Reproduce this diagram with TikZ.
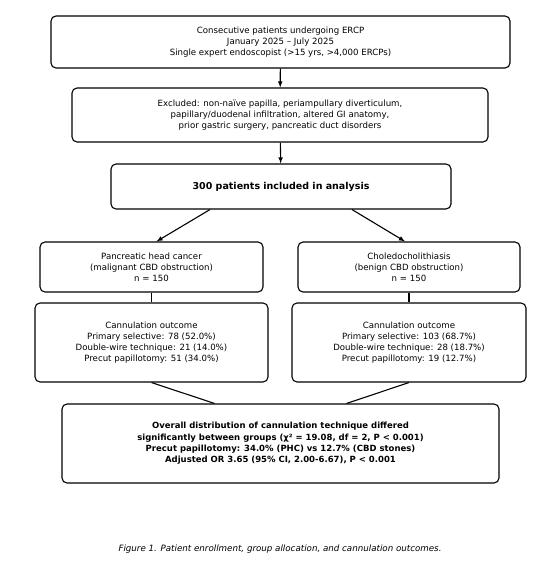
\documentclass[tikz,border=0pt]{standalone}
\usepackage{fontspec}
\setmainfont{DejaVu Sans}
\usepackage{tikz}
\usetikzlibrary{calc}

\begin{document}
\begin{tikzpicture}[x=1pt,y=-1pt,
	box/.style={draw,line width=1.1pt,rounded corners=5pt,fill=white,align=center,inner sep=0pt,font=\fontsize{8.6}{11}\selectfont},
	link/.style={line width=1.1pt},
	arr/.style={link,-latex}]
	\fill[white] (0,0) rectangle (554,588);
	\useasboundingbox (0,0) rectangle (554,588);
	\def\offa{71};
	\def\offb{66};
	% enrollment
	\node[box,minimum width=459pt,minimum height=52pt] (src) at (280.5,42)
		{Consecutive patients undergoing ERCP\\January 2025 -- July 2025\\Single expert endoscopist (>15 yrs, >4,000 ERCPs)};
	\node[box,minimum width=416pt,minimum height=54pt] (excl) at (280,115)
		{Excluded: non-naïve papilla, periampullary diverticulum,\\papillary/duodenal infiltration, altered GI anatomy,\\prior gastric surgery, pancreatic duct disorders};
	\node[box,minimum width=340pt,minimum height=45pt,font=\fontsize{9.5}{11}\selectfont\bfseries] (incl) at (281,186.5)
		{300 patients included in analysis};
	% groups
	\node[box,minimum width=223pt,minimum height=50pt] (grpL) at (151.5,267)
		{Pancreatic head cancer\\(malignant CBD obstruction)\\n = 150};
	\node[box,minimum width=222pt,minimum height=50pt] (grpR) at (409,267)
		{Choledocholithiasis\\(benign CBD obstruction)\\n = 150};
	\node[box,minimum width=233pt,minimum height=79pt] (outL) at (151.5,342.5)
		{Cannulation outcome\\Primary selective: 78 (52.0\%)\\Double-wire technique: 21 (14.0\%)\\Precut papillotomy: 51 (34.0\%)};
	\node[box,minimum width=234pt,minimum height=79pt] (outR) at (409,342.5)
		{Cannulation outcome\\Primary selective: 103 (68.7\%)\\Double-wire technique: 28 (18.7\%)\\Precut papillotomy: 19 (12.7\%)};
	% result
	\node[box,minimum width=437pt,minimum height=79pt,font=\fontsize{8.5}{11.3}\selectfont\bfseries] (fin) at (280.5,443.5)
		{Overall distribution of cannulation technique differed\\significantly between groups (χ² = 19.08, df = 2, P < 0.001)\\Precut papillotomy: 34.0\% (PHC) vs 12.7\% (CBD stones)\\Adjusted OR 3.65 (95\% CI, 2.00-6.67), P < 0.001};
	\node[font=\fontsize{8.7}{10}\selectfont\itshape] (cap) at (280,549)
		{Figure 1. Patient enrollment, group allocation, and cannulation outcomes.};
	\draw[arr] (src) -- (excl);
	\draw[arr] (excl) -- (incl);
	\draw[arr] ($(incl.south)+(-\offa,0)$) -- ($(grpL.north)+(5,0)$);
	\draw[arr] ($(incl.south)+(\offa,0)$) -- ($(grpR.north)+(-4,0)$);
	\draw[link] (grpL) -- (outL);
	\draw[link] (grpR) -- (outR);
	\draw[link] (outL.south) -- ($(fin.north)+(-\offb,0)$);
	\draw[link] (outR.south) -- ($(fin.north)+(\offb,0)$);
\end{tikzpicture}
\end{document}
